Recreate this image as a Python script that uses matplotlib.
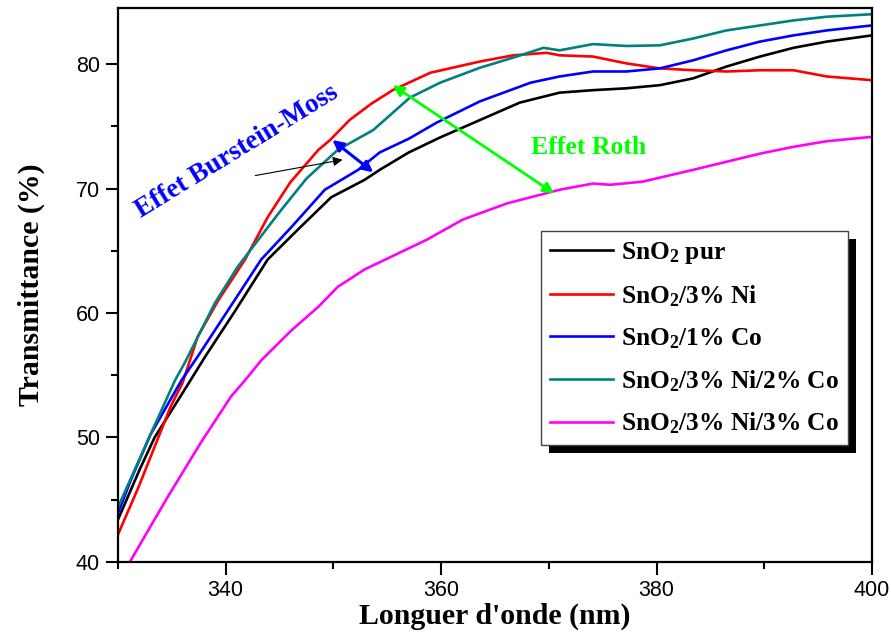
import matplotlib
matplotlib.use('Agg')
import matplotlib.pyplot as plt
from matplotlib.patches import Rectangle
from matplotlib.ticker import MultipleLocator

# Data (wavelength in nm, transmittance in %)
x_pur = [330, 332.0, 333.4, 335.8, 338.1, 340.9, 343.9, 346.7, 349.8, 352.9, 354.3, 357.0,
         359.9, 363.6, 367.3, 371.0, 374.1, 377.2, 380.3, 383.4, 386.5, 389.6, 392.7, 395.8, 400]
y_pur = [43.4, 47.4, 50.0, 53.3, 56.5, 60.2, 64.3, 66.7, 69.3, 70.7, 71.5, 72.9,
         74.1, 75.5, 76.9, 77.7, 77.9, 78.05, 78.3, 78.85, 79.8, 80.6, 81.3, 81.8, 82.3]

x_ni = [330, 331.9, 334.9, 336.0, 337.4, 339.3, 341.8, 343.9, 346.0, 348.6, 349.7, 351.5, 353.5,
        355.5, 359.0, 363.6, 366.7, 369.8, 371.0, 374.1, 377.2, 380.3, 383.4, 386.5, 389.6, 392.7,
        395.8, 400]
y_ni = [42.2, 46.0, 52.5, 54.4, 58.1, 61.0, 64.3, 67.7, 70.5, 73.1, 73.9, 75.5, 76.8,
        77.9, 79.3, 80.2, 80.7, 80.9, 80.7, 80.6, 80.05, 79.65, 79.5, 79.4, 79.5, 79.5,
        79.0, 78.7]

x_co = [330, 331.2, 333.0, 335.9, 337.4, 340.2, 343.3, 346.1, 349.2, 352.3, 354.3, 357.0, 359.6,
        363.6, 368.3, 371.0, 374.1, 377.2, 380.3, 383.4, 386.5, 389.6, 392.7, 395.8, 400]
y_co = [43.9, 46.6, 50.2, 54.6, 56.5, 60.2, 64.3, 66.9, 69.9, 71.5, 72.9, 74.0, 75.3,
        77.0, 78.5, 79.0, 79.4, 79.4, 79.65, 80.3, 81.1, 81.8, 82.3, 82.7, 83.1]

x_ni2co = [330, 333.1, 335.3, 336.2, 339.0, 341.1, 344.9, 347.5, 350.4, 353.7, 357.1, 359.9,
           363.6, 367.0, 369.5, 371.0, 374.1, 377.2, 380.3, 383.4, 386.5, 389.6, 392.7, 395.8, 400]
y_ni2co = [44.4, 50.4, 54.6, 56.0, 60.8, 63.7, 68.0, 70.8, 73.1, 74.7, 77.3, 78.5,
           79.7, 80.6, 81.3, 81.1, 81.6, 81.45, 81.5, 82.05, 82.7, 83.1, 83.5, 83.8, 84.0]

x_ni3co = [331.1, 334.6, 337.7, 340.5, 341.8, 343.3, 346.1, 348.6, 350.4, 352.9, 358.7, 362.0,
           366.1, 371.0, 374.1, 375.7, 378.7, 383.4, 386.5, 389.6, 392.7, 395.8, 400]
y_ni3co = [40.0, 45.2, 49.6, 53.3, 54.6, 56.2, 58.6, 60.5, 62.1, 63.5, 65.9, 67.5,
           68.8, 69.9, 70.4, 70.3, 70.55, 71.5, 72.15, 72.8, 73.35, 73.8, 74.15]

series = [
    (x_pur, y_pur, 'black', 'SnO$_2$ pur'),
    (x_ni, y_ni, '#ff0000', 'SnO$_2$/3% Ni'),
    (x_co, y_co, '#0000ff', 'SnO$_2$/1% Co'),
    (x_ni2co, y_ni2co, '#008080', 'SnO$_2$/3% Ni/2% Co'),
    (x_ni3co, y_ni3co, '#ff00ff', 'SnO$_2$/3% Ni/3% Co'),
]

plt.rcParams['mathtext.fontset'] = 'custom'
plt.rcParams['mathtext.rm'] = 'Liberation Serif:bold'
plt.rcParams['mathtext.it'] = 'Liberation Serif:bold'
plt.rcParams['mathtext.bf'] = 'Liberation Serif:bold'
plt.rcParams['mathtext.default'] = 'rm'

fig = plt.figure(figsize=(8.91, 6.40), dpi=100)
ax = fig.add_axes([0.1324, 0.1219, 0.8463, 0.8656])

for xs, ys, c, lab in series:
    ax.plot(xs, ys, color=c, lw=1.9, label=lab)

ax.set_xlim(330, 400)
ax.set_ylim(40, 84.5)
ax.xaxis.set_major_locator(MultipleLocator(20))
ax.xaxis.set_minor_locator(MultipleLocator(10))
ax.yaxis.set_major_locator(MultipleLocator(10))
ax.yaxis.set_minor_locator(MultipleLocator(5))
ax.tick_params(which='both', direction='out', width=1.5, top=False, right=False)
ax.tick_params(which='major', length=9, labelsize=15.5, pad=4)
ax.tick_params(which='minor', length=5)
for lbl in ax.get_xticklabels() + ax.get_yticklabels():
    lbl.set_family('Liberation Sans')
for sp in ax.spines.values():
    sp.set_linewidth(1.6)

serif_b = dict(family='Liberation Serif', weight='bold')
ax.set_xlabel("Longuer d'onde (nm)", fontsize=21.5, labelpad=1, **serif_b)
ax.set_ylabel('Transmittance (%)', fontsize=21.5, labelpad=22, **serif_b)

# annotations
ax.text(341.0, 73.0, 'Effet Burstein-Moss', color='#0000ff', fontsize=19.5, rotation=31.5,
        ha='center', va='center', rotation_mode='anchor', **serif_b)
ax.annotate('', xy=(351.1, 72.35), xytext=(342.5, 71.0),
            arrowprops=dict(arrowstyle='-|>', color='black', lw=0.8, mutation_scale=14))
ax.annotate('', xy=(349.9, 73.9), xytext=(353.7, 71.3),
            arrowprops=dict(arrowstyle='<|-|>', color='#0000ff', lw=2.2, mutation_scale=16,
                            shrinkA=0, shrinkB=0))
ax.annotate('', xy=(355.5, 78.3), xytext=(370.5, 69.6),
            arrowprops=dict(arrowstyle='<|-|>', color='#00ff00', lw=2.0, mutation_scale=16,
                            shrinkA=0, shrinkB=0))
ax.text(373.7, 73.3, 'Effet Roth', color='#00ff00', fontsize=18.5, ha='center', va='center', **serif_b)

leg = ax.legend(loc='upper left', bbox_to_anchor=(0.561, 0.5975), borderaxespad=0,
                fancybox=False, framealpha=1, edgecolor='#444444', handlelength=2.5,
                handletextpad=0.3, labelspacing=0.68, borderpad=0.35,
                prop=dict(family='Liberation Serif', weight='bold', size=18.3))
leg.get_frame().set_linewidth(1.0)

# solid black drop shadow of the legend box
fig.canvas.draw()
bb = leg.get_window_extent().transformed(ax.transAxes.inverted())
dx = 8 / ax.bbox.width
dy = 8 / ax.bbox.height
ax.add_patch(Rectangle((bb.x0 + dx, bb.y0 - dy), bb.width, bb.height, transform=ax.transAxes,
                       facecolor='black', edgecolor='none', zorder=4.5, clip_on=False))

fig.savefig('out.png', dpi=100)
